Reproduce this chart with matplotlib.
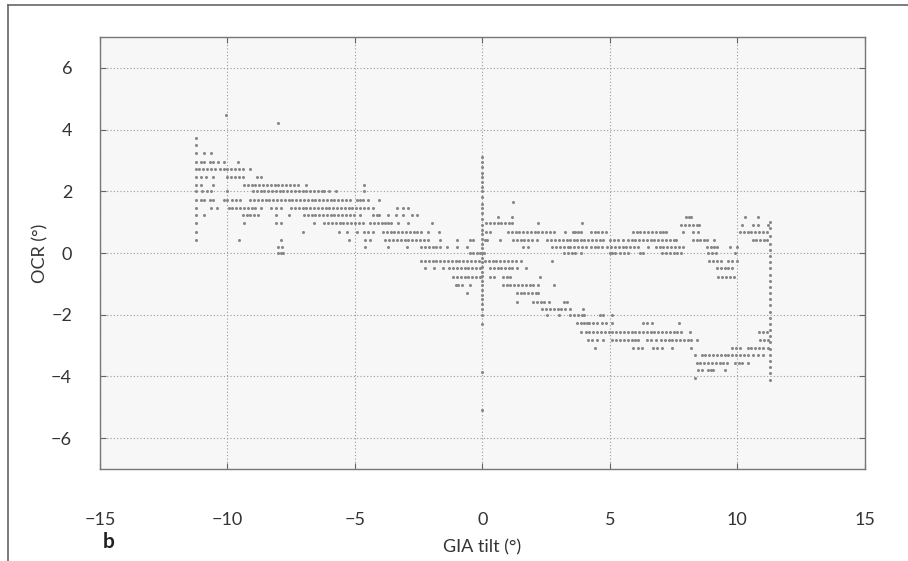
import matplotlib
matplotlib.use('Agg')
import matplotlib.pyplot as plt
from matplotlib.lines import Line2D

plt.rcParams['font.family'] = ['Lato', 'DejaVu Sans']

# OCR (deg) vs GIA tilt (deg)
# each entry: (ocr, [gia values on that row])
rows_left = [
    (4.48, [-10.07]),
    (4.22, [-8.03]),
    (3.73, [-11.24]),
    (3.5, [-11.24]),
    (3.25, [-11.24, -10.9, -10.65]),
    (2.96, [-11.24, -11.05, -10.9, -10.7, -10.55, -10.35, -10.15, -9.6]),
    (2.72, [-11.24, -11.1, -10.95, -10.8, -10.65, -10.5, -10.3, -10.15, -10.0, -9.85,
            -9.7, -9.55, -9.4, -9.1]),
    (2.46, [-11.24, -11.05, -10.85, -10.55, -10.0, -9.85, -9.7, -9.55, -9.4, -8.85, -8.7]),
    (2.2, [-11.24, -11.05, -10.55, -9.35, -9.2, -9.05, -8.9, -8.75, -8.6, -8.45, -8.3,
           -8.15, -8.0, -7.85, -7.7, -7.55, -7.4, -7.25, -6.9, -4.66]),
    (2.02, [-11.24, -11.0, -10.8, -10.65, -10.0, -9.0, -8.85, -8.7, -8.55, -8.4, -8.25,
            -8.1, -7.95, -7.8, -7.65, -7.5, -7.35, -7.2, -7.05, -6.9, -6.75, -6.6, -6.45,
            -6.3, -6.2, -6.0, -5.75, -4.66]),
    (1.72, [-11.24, -11.05, -10.9, -10.7, -10.55, -10.15, -10.0, -9.8, -9.65, -9.5, -9.1,
            -8.95, -8.8, -8.65, -8.5, -8.35, -8.2, -8.05, -7.9, -7.75, -7.6, -7.45, -7.3,
            -7.15, -7.0, -6.85, -6.7, -6.55, -6.4, -6.25, -6.1, -5.95, -5.8, -5.65, -5.5,
            -5.35, -5.2, -4.9, -4.8, -4.7, -4.5, -4.07]),
    (1.46, [-11.24, -10.65, -10.4, -9.95, -9.8, -9.65, -9.5, -9.35, -9.2, -9.05, -8.9,
            -8.7, -8.3, -8.1, -7.9, -7.5, -7.35, -7.2, -7.05, -6.9, -6.75, -6.6, -6.45,
            -6.3, -6.15, -6.0, -5.85, -5.7, -5.55, -5.4, -5.25, -5.1, -4.95, -4.8, -4.65,
            -4.5, -4.3, -3.33, -3.1, -2.9]),
    (1.23, [-11.24, -10.9, -9.4, -9.25, -9.1, -8.95, -8.8, -8.1, -7.6, -7.0, -6.85, -6.7,
            -6.55, -6.4, -6.25, -6.1, -5.95, -5.8, -5.65, -5.5, -5.35, -5.2, -5.05, -4.8,
            -4.27, -4.15, -4.05, -3.7, -3.4, -3.1, -2.75, -2.55]),
    (0.97, [-11.24, -9.36, -8.1, -7.9, -6.6, -6.2, -6.05, -5.9, -5.75, -5.6, -5.45, -5.3,
            -5.15, -5.0, -4.85, -4.7, -4.4, -4.25, -4.1, -3.95, -3.8, -3.7, -3.6, -3.3,
            -2.9, -1.96]),
    (0.68, [-11.24, -7.05, -5.64, -5.3, -4.9, -4.66, -4.5, -4.3, -3.9, -3.75, -3.6, -3.45,
            -3.3, -3.15, -3.0, -2.85, -2.7, -2.55, -2.4, -2.15, -1.7]),
    (0.42, [-11.24, -9.55, -7.9, -5.25, -4.6, -4.4, -3.8, -3.65, -3.5, -3.35, -3.2, -3.05,
            -2.9, -2.75, -2.6, -2.45, -2.3, -2.15, -1.65, -1.0, -0.47, -0.35]),
    (0.2, [-8.0, -7.85, -4.6, -3.7, -2.95, -2.4, -2.25, -2.1, -1.95, -1.8, -1.65, -1.4,
           -1.0, -0.6]),
    (0.0, [-8.0, -7.9, -7.8, -0.47, -0.35, -0.2, -0.1]),
    (-0.25, [-2.4, -2.25, -2.1, -1.95, -1.8, -1.65, -1.5, -1.35, -1.2, -1.05, -0.9, -0.75,
             -0.6, -0.45, -0.3, -0.15]),
    (-0.5, [-2.25, -1.9, -1.55, -1.3, -1.15, -1.0, -0.85, -0.7, -0.55, -0.4, -0.25, -0.1]),
    (-0.78, [-1.17, -1.0, -0.85, -0.7, -0.55, -0.4, -0.25, -0.1]),
    (-1.04, [-1.05, -0.95, -0.8, -0.5]),
    (-1.3, [-0.6]),
]

rows_right = [
    (1.66, [1.2]),
    (1.17, [0.6, 1.17, 8.0, 8.1, 8.2, 10.3, 10.8]),
    (0.97, [0.15, 0.3, 0.45, 0.6, 0.75, 0.9, 1.05, 1.17, 2.2, 3.9]),
    (0.9, [7.8, 7.95, 8.1, 8.25, 8.4, 8.5, 10.2, 10.6, 10.8, 11.2]),
    (0.68, [0.15, 0.3, 1.0, 1.15, 1.3, 1.45, 1.6, 1.75, 1.9, 2.05, 2.2, 2.35, 2.5, 2.65,
            2.8, 3.25, 3.57, 3.65, 3.76, 3.85, 4.25, 4.4, 4.55, 4.7, 4.85, 5.9, 6.05, 6.2,
            6.35, 6.5, 6.65, 6.8, 6.95, 7.1, 7.2, 7.85, 8.25, 8.45, 10.1, 10.25, 10.4,
            10.55, 10.7, 10.85, 11.0, 11.15]),
    (0.42, [0.1, 0.2, 0.7, 1.2, 1.35, 1.5, 1.65, 1.8, 1.95, 2.15, 2.55, 2.7, 2.85, 3.0,
            3.15, 3.3, 3.45, 3.6, 3.7, 3.85, 4.0, 4.15, 4.3, 4.45, 4.6, 4.75, 5.0, 5.15,
            5.3, 5.5, 5.7, 5.85, 6.0, 6.15, 6.3, 6.45, 6.6, 6.75, 6.9, 7.05, 7.2, 7.35,
            7.5, 7.6, 8.25, 8.4, 8.55, 8.7, 8.8, 9.1, 10.6, 10.75, 10.9, 11.05, 11.15]),
    (0.2, [1.6, 1.8, 2.75, 2.9, 3.05, 3.2, 3.35, 3.45, 3.6, 3.75, 3.9, 4.05, 4.25, 4.4,
           4.55, 4.7, 4.9, 5.05, 5.2, 5.35, 5.5, 5.65, 5.8, 5.95, 6.1, 6.5, 6.8, 6.95,
           7.1, 7.25, 7.4, 7.55, 7.7, 7.85, 8.8, 8.95, 9.1, 9.2, 9.7, 10.0]),
    (0.0, [0.05, 3.2, 3.35, 3.5, 3.65, 3.85, 5.0, 5.1, 5.2, 5.4, 5.55, 5.7, 6.2, 6.3,
           7.05, 7.2, 7.35, 7.5, 7.65, 7.8, 8.85, 9.0, 9.15, 9.9]),
    (-0.25, [0.1, 0.25, 0.4, 0.55, 0.7, 0.85, 1.0, 1.15, 1.3, 1.5, 2.75, 8.9, 9.05, 9.2,
             9.35, 9.65, 9.8, 10.0]),
    (-0.5, [0.3, 0.45, 0.6, 0.75, 0.9, 1.05, 1.17, 1.37, 1.7, 9.2, 9.35, 9.5, 9.65, 9.8]),
    (-0.78, [0.3, 0.45, 0.8, 0.95, 1.1, 2.27, 9.25, 9.4, 9.55, 9.7, 9.85]),
    (-1.04, [0.8, 0.95, 1.1, 1.25, 1.4, 1.55, 1.7, 1.85, 2.0, 2.2, 2.8]),
    (-1.3, [1.37, 1.5, 1.65, 1.8, 1.95, 2.1, 2.2]),
    (-1.58, [1.37, 2.0, 2.15, 2.3, 2.4, 2.6, 3.2, 3.3]),
    (-1.82, [2.35, 2.5, 2.65, 2.8, 2.95, 3.1, 3.25, 3.45, 3.95]),
    (-2.0, [2.55, 3.0, 3.45, 3.6, 3.75, 3.9, 4.0, 4.6, 4.75, 5.1]),
    (-2.27, [3.7, 3.85, 4.0, 4.1, 4.2, 4.35, 4.5, 4.7, 4.85, 5.1, 6.3, 6.45, 6.65, 7.7]),
    (-2.56, [3.85, 4.05, 4.2, 4.35, 4.5, 4.65, 4.8, 4.95, 5.1, 5.25, 5.4, 5.55, 5.7, 5.85,
             6.0, 6.15, 6.3, 6.45, 6.6, 6.75, 6.9, 7.05, 7.2, 7.35, 7.5, 7.65, 7.8, 8.15,
             10.85, 11.0, 11.15]),
    (-2.82, [4.15, 4.3, 4.5, 4.75, 5.1, 5.25, 5.4, 5.55, 5.7, 5.85, 6.0, 6.1, 6.45, 6.6,
             6.8, 7.0, 7.15, 7.3, 7.45, 7.6, 7.75, 7.9, 8.05, 8.2, 8.4, 10.9, 11.05, 11.2]),
    (-3.08, [4.43, 5.9, 6.1, 6.25, 6.7, 6.85, 7.05, 7.45, 8.2, 9.8, 9.95, 10.1, 10.4,
             10.55, 10.7, 10.85, 11.0, 11.2]),
    (-3.3, [8.35, 8.6, 8.75, 8.9, 9.05, 9.2, 9.35, 9.5, 9.65, 9.8, 9.95, 10.1, 10.25,
            10.4, 10.6, 10.8, 11.0]),
    (-3.55, [8.4, 8.55, 8.7, 8.85, 9.0, 9.15, 9.3, 9.45, 9.6, 9.9, 10.05, 10.2, 10.4]),
    (-3.8, [8.45, 8.6, 8.85, 8.95, 9.05, 9.5]),
    (-4.05, [8.35]),
]

# vertical streaks at GIA = 0 and GIA = 11.28
col_zero_gia = 0.0
col_zero_ocr = [3.1, 2.95, 2.8, 2.6, 2.45, 2.3, 2.15, 2.0, 1.8, 1.6, 1.45, 1.3, 1.1, 0.9,
                0.75, 0.6, 0.45, 0.3, 0.15, 0.0, -0.15, -0.3, -0.45, -0.6, -0.75, -0.9,
                -1.05, -1.2, -1.35, -1.5, -1.65, -1.8, -2.0, -2.3, -3.86, -5.1]
col_end_gia = 11.28
col_end_ocr = [1.0, 0.8, 0.55, 0.3, 0.1, -0.1, -0.3, -0.5, -0.7, -0.9, -1.1, -1.3, -1.5,
               -1.7, -1.9, -2.1, -2.3, -2.5, -2.7, -2.9, -3.1, -3.3, -3.5, -3.7, -3.9, -4.1]


def main():
    gia, ocr = [], []
    for y, xs in rows_left + rows_right:
        gia += xs
        ocr += [y] * len(xs)
    gia += [col_zero_gia] * len(col_zero_ocr)
    ocr += col_zero_ocr
    gia += [col_end_gia] * len(col_end_ocr)
    ocr += col_end_ocr

    fig = plt.figure(figsize=(9.08, 5.61), dpi=100)
    ax = fig.add_axes([0.110, 0.164, 0.8425, 0.770])
    ax.set_facecolor('#f7f7f7')

    ax.plot(gia, ocr, linestyle='none', marker='o', markersize=2.2,
            markeredgewidth=0, color='#878787')

    ax.set_xlim(-15, 15)
    ax.set_ylim(-7, 7)
    ax.set_xticks([-15, -10, -5, 0, 5, 10, 15])
    ax.set_yticks([-6, -4, -2, 0, 2, 4, 6])
    ax.grid(True, linestyle=(0, (1, 2)), color='#9a9a9a', linewidth=0.8)
    ax.tick_params(direction='in', length=4, color='#666666', labelsize=13,
                   labelcolor='#333333', top=True, right=True)
    ax.tick_params(axis='x', pad=31)
    ax.tick_params(axis='y', pad=20)
    for s in ax.spines.values():
        s.set_color('#777777')
        s.set_linewidth(1.0)

    ax.set_xlabel('GIA tilt (°)', fontsize=13, color='#333333', labelpad=8)
    ax.set_ylabel('OCR (°)', fontsize=13, color='#333333', labelpad=2)
    fig.text(0.113, 0.023, 'b', fontsize=15, fontweight='bold', color='#222222')

    # panel frame (top and left edges)
    fig.add_artist(Line2D([0.0088, 1.0], [0.991, 0.991], color='#666666', lw=1.2))
    fig.add_artist(Line2D([0.0088, 0.0088], [0.0, 0.991], color='#666666', lw=1.2))

    plt.savefig('out.png', dpi=100)


if __name__ == '__main__':
    main()
